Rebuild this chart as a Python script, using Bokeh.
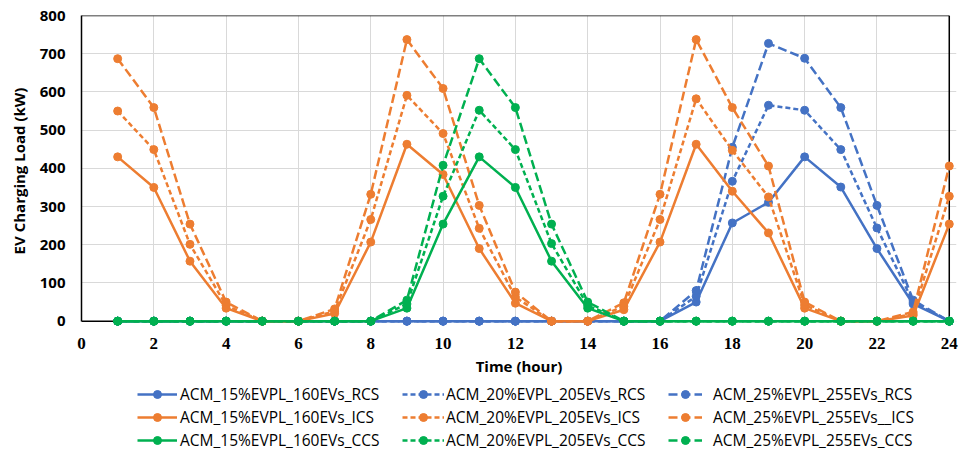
from bokeh.plotting import figure
from bokeh.layouts import column
from bokeh.models import Range1d, FixedTicker, Legend, LegendItem, BoxAnnotation
from bokeh.embed import file_html
from bokeh.resources import INLINE

hours = [1, 2, 3, 4, 5, 6, 7, 8, 9, 10, 11, 12, 13, 14, 15, 16, 17, 18, 19, 20, 21, 22, 23, 24]

rcs_15 = [0, 0, 0, 0, 0, 0, 0, 0, 0, 0, 0, 0, 0, 0, 0, 0, 50, 257, 311, 430, 351, 190, 45, 0]
rcs_20 = [0, 0, 0, 0, 0, 0, 0, 0, 0, 0, 0, 0, 0, 0, 0, 0, 65, 366, 565, 552, 449, 244, 50, 0]
rcs_25 = [0, 0, 0, 0, 0, 0, 0, 0, 0, 0, 0, 0, 0, 0, 0, 0, 80, 455, 727, 688, 559, 303, 55, 0]

ics_15 = [430, 350, 157, 34, 0, 0, 20, 207, 463, 384, 190, 47, 0, 0, 30, 207, 463, 340, 231, 34, 0, 0, 15, 254]
ics_20 = [550, 449, 201, 41, 0, 0, 26, 266, 591, 491, 243, 63, 0, 0, 39, 266, 582, 447, 325, 42, 0, 0, 19, 327]
ics_25 = [687, 559, 254, 50, 0, 0, 32, 332, 737, 609, 303, 76, 0, 0, 48, 332, 737, 559, 406, 50, 0, 0, 24, 406]

ccs_15 = [0, 0, 0, 0, 0, 0, 0, 0, 34, 254, 430, 350, 157, 34, 0, 0, 0, 0, 0, 0, 0, 0, 0, 0]
ccs_20 = [0, 0, 0, 0, 0, 0, 0, 0, 45, 327, 552, 449, 203, 41, 0, 0, 0, 0, 0, 0, 0, 0, 0, 0]
ccs_25 = [0, 0, 0, 0, 0, 0, 0, 0, 55, 408, 687, 559, 254, 50, 0, 0, 0, 0, 0, 0, 0, 0, 0, 0]

x_ticks = [0, 2, 4, 6, 8, 10, 12, 14, 16, 18, 20, 22, 24]
y_ticks = [0, 100, 200, 300, 400, 500, 600, 700, 800]

BLUE = "#4472C4"
ORANGE = "#ED7D31"
GREEN = "#00B050"

series = [
    ("ACM_15%EVPL_160EVs_RCS", rcs_15, BLUE, "solid", 0),
    ("ACM_20%EVPL_205EVs_RCS", rcs_20, BLUE, "5 3", 1),
    ("ACM_25%EVPL_255EVs_RCS", rcs_25, BLUE, "9 4", 2),
    ("ACM_15%EVPL_160EVs_ICS", ics_15, ORANGE, "solid", 0),
    ("ACM_20%EVPL_205EVs_ICS", ics_20, ORANGE, "5 3", 1),
    ("ACM_25%EVPL_255EVs__ICS", ics_25, ORANGE, "9 4", 2),
    ("ACM_15%EVPL_160EVs_CCS", ccs_15, GREEN, "solid", 0),
    ("ACM_20%EVPL_205EVs_CCS", ccs_20, GREEN, "5 3", 1),
    ("ACM_25%EVPL_255EVs_CCS", ccs_25, GREEN, "9 4", 2),
]

MAIN_H = 380
LEG_H = 451 - MAIN_H

p = figure(width=960, height=MAIN_H, output_backend="svg", toolbar_location=None,
           x_range=Range1d(0, 24.2), y_range=Range1d(-14, 800),
           min_border_left=81, min_border_right=4, min_border_top=15, min_border_bottom=54)
p.outline_line_color = None
p.background_fill_color = "white"

# hide grid stubs below zero line
p.add_layout(BoxAnnotation(top=0, fill_color="white", fill_alpha=1, line_color=None, level="underlay"))

# frame borders: top, right, bottom (zero line)
p.segment(x0=[0, 24, 0], y0=[800, 0, 0], x1=[24, 24, 24], y1=[800, 800, 0],
          line_color="black", line_width=1.5)

for name, data, color, dash, col in series:
    p.line(hours, data, line_color=color, line_width=2.5, line_dash=dash)
    p.scatter(hours, data, size=8, fill_color=color, line_color=color)

# axes
xa = p.xaxis[0]
xa.ticker = FixedTicker(ticks=x_ticks)
xa.axis_line_color = None
xa.major_tick_in = 0
xa.major_tick_out = 0
xa.minor_tick_line_color = None
xa.major_label_text_font = "Liberation Serif"
xa.major_label_text_font_style = "bold"
xa.major_label_text_font_size = "17px"
xa.major_label_text_color = "black"
xa.major_label_standoff = 11
xa.axis_label = "Time (hour)"
xa.axis_label_text_font = "Open Sans"
xa.axis_label_text_font_style = "bold"
xa.axis_label_text_font_size = "15px"
xa.axis_label_text_color = "black"
xa.axis_label_standoff = 4

ya = p.yaxis[0]
ya.ticker = FixedTicker(ticks=y_ticks)
ya.bounds = (0, 800)
ya.axis_line_color = "black"
ya.axis_line_width = 1.5
ya.major_tick_in = 0
ya.major_tick_out = 0
ya.minor_tick_line_color = None
ya.major_label_text_font = "Open Sans"
ya.major_label_text_font_style = "bold"
ya.major_label_text_font_size = "15px"
ya.major_label_text_color = "black"
ya.major_label_standoff = 16
ya.axis_label = "EV Charging Load (kW)"
ya.axis_label_text_font = "Open Sans"
ya.axis_label_text_font_style = "bold"
ya.axis_label_text_font_size = "15px"
ya.axis_label_text_color = "black"
ya.axis_label_standoff = 8

p.xgrid.ticker = FixedTicker(ticks=x_ticks)
p.ygrid.ticker = FixedTicker(ticks=y_ticks)
p.xgrid.grid_line_color = "#D9D9D9"
p.ygrid.grid_line_color = "#D9D9D9"
p.xgrid.grid_line_width = 1
p.ygrid.grid_line_width = 1

# legend panel (separate figure; its frame is aligned with the main frame)
q = figure(width=960, height=LEG_H, output_backend="svg", toolbar_location=None,
           x_range=Range1d(0, 1), y_range=Range1d(0, 1),
           x_axis_location=None, y_axis_location=None,
           min_border_left=0, min_border_right=0, min_border_top=0, min_border_bottom=0)
q.outline_line_color = None
q.xgrid.visible = False
q.ygrid.visible = False

# hidden sample glyphs (outside visible range) for legend swatches
sample_x = [-5, -4]
sample_y = [-5, -4]
legend_items = [[], [], []]
for name, data, color, dash, col in series:
    ql = q.line(x=sample_x, y=sample_y, line_color=color, line_width=2.5, line_dash=dash)
    qs = q.scatter(x=sample_x, y=sample_y, size=8, fill_color=color, line_color=color)
    legend_items[col].append(LegendItem(label=name, renderers=[ql, qs]))

leg_x = [56, 321, 587]
glyph_w = [40, 42, 34]
standoff = [3, 2, 11]
for i in range(3):
    lg = Legend(items=legend_items[i], location=(leg_x[i], 0), orientation="vertical",
                padding=0, margin=0, spacing=1, label_height=20, glyph_height=20,
                glyph_width=glyph_w[i], label_standoff=standoff[i],
                label_text_font="Open Sans", label_text_font_size="15.5px",
                label_text_color="black", background_fill_alpha=0, border_line_color=None)
    q.add_layout(lg, "center")

layout = column(p, q, spacing=0)
open("out.html", "w").write(file_html(layout, INLINE))
